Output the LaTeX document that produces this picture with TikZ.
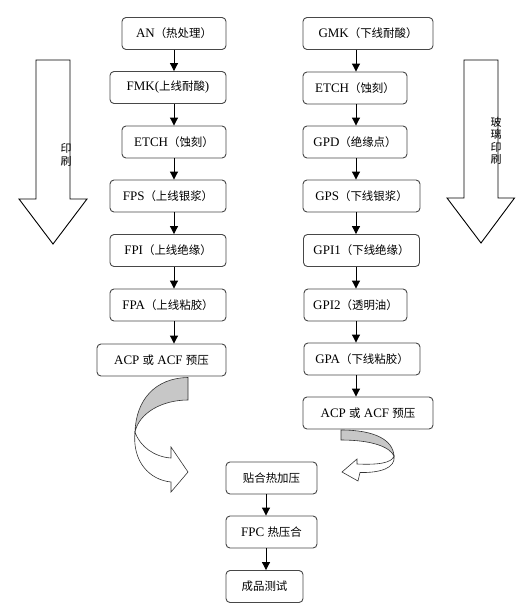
\documentclass[tikz,border=0pt]{standalone}
\usepackage{fontspec}
\setmainfont{Liberation Serif}
\newfontfamily\cjk[Scale=0.88]{Noto Sans CJK SC}
\newfontfamily\cjkv{Noto Sans CJK SC}
\usetikzlibrary{arrows.meta}
\newcommand\cn[1]{{\cjk #1}}
\tikzset{
  box/.style={draw=black!72, line width=0.9pt, rounded corners=4pt, fill=white,
    inner sep=0pt, minimum height=32pt, font=\fontsize{13}{15}\selectfont},
  arr/.style={line width=1pt, -{Triangle[length=8pt,width=8pt]}},
  bigarrow/.style={draw=black, line width=0.9pt, fill=white},
  backband/.style={draw=black!80, line width=0.6pt, fill=black!22},
  frontband/.style={draw=black!80, line width=0.6pt, fill=white},
  vtext/.style={align=center, inner sep=0pt, font=\cjkv\fontsize{11}{12.5}\selectfont}
}
\begin{document}
\begin{tikzpicture}[x=1pt,y=-1pt]
\useasboundingbox (0,0) rectangle (515,611);

% big arrows
\draw[bigarrow] (36,60) -- (70,60) -- (70,199) -- (87,199) -- (53,244) -- (19,199) -- (36,199) -- cycle;
\node[vtext] (ltxt) at (66,155) {印\\刷};
\draw[bigarrow] (464,60) -- (498,60) -- (498,198) -- (514.5,198) -- (481,243) -- (447,198) -- (464,198) -- cycle;
\node[vtext] (rtxt) at (496,141) {玻\\璃\\印\\刷};

% left column
\node[box, minimum width=104pt] (an)   at (174,33.5) {AN\cn{（热处理）}};
\node[box, minimum width=116pt] (fmk)  at (168,87.5) {FMK(\cn{上线耐酸})};
\node[box, minimum width=104pt] (etch) at (174,142) {ETCH\cn{（蚀刻）}};
\node[box, minimum width=116pt] (fps)  at (168,196) {FPS\cn{（上线银浆）}};
\node[box, minimum width=116pt] (fpi)  at (168,250.5) {FPI\cn{（上线绝缘）}};
\node[box, minimum width=116pt] (fpa)  at (168,305) {FPA\cn{（上线粘胶）}};
\node[box, minimum width=129pt] (acpl) at (161.5,360) {ACP \cn{或} ACF \cn{预压}\hspace{6pt}};

% right column
\node[box, minimum width=130pt] (gmk)   at (368,33.5) {GMK\cn{（下线耐酸）}};
\node[box, minimum width=104pt] (etch2) at (355,88) {ETCH\cn{（蚀刻）}};
\node[box, minimum width=104pt] (gpd)   at (355,142) {GPD\cn{（绝缘点）}};
\node[box, minimum width=117pt] (gps)   at (361.5,196) {GPS\cn{（下线银浆）}};
\node[box, minimum width=116pt] (gpi1)  at (361.5,250.5) {GPI1\cn{（下线绝缘）}};
\node[box, minimum width=103pt] (gpi2)  at (355.5,305) {GPI2\cn{（透明油）}};
\node[box, minimum width=116pt] (gpa)   at (362,359) {GPA\cn{（下线粘胶）}};
\node[box, minimum width=130pt] (acpr)  at (368,413) {ACP \cn{或} ACF \cn{预压}};

% bottom column
\node[box, minimum width=91pt] (tie)  at (271.5,478) {\cn{贴合热加压}};
\node[box, minimum width=91pt] (fpc)  at (271.5,532) {FPC \cn{热压合}};
\node[box, minimum width=77pt] (test) at (264.5,586.5) {\cn{成品测试}};

% connector lines
\coordinate (cl) at (174,0);
\coordinate (cr) at (356,0);
\coordinate (cb) at (266,0);
\draw[arr] (cl |- an.south) -- (cl |- fmk.north);
\draw[arr] (cl |- fmk.south) -- (cl |- etch.north);
\draw[arr] (cl |- etch.south) -- (cl |- fps.north);
\draw[arr] (cl |- fps.south) -- (cl |- fpi.north);
\draw[arr] (cl |- fpi.south) -- (cl |- fpa.north);
\draw[arr] (cl |- fpa.south) -- (cl |- acpl.north);

\draw[arr] (cr |- gmk.south) -- (cr |- etch2.north);
\draw[arr] (cr |- etch2.south) -- (cr |- gpd.north);
\draw[arr] (cr |- gpd.south) -- (cr |- gps.north);
\draw[arr] (cr |- gps.south) -- (cr |- gpi1.north);
\draw[arr] (cr |- gpi1.south) -- (cr |- gpi2.north);
\draw[arr] (cr |- gpi2.south) -- (cr |- gpa.north);
\draw[arr] (cr |- gpa.south) -- (cr |- acpr.north);

\draw[arr] (cb |- tie.south) -- (cb |- fpc.north);
\draw[arr] (cb |- fpc.south) -- (cb |- test.north);

% left curved arrow
\draw[backband] (188,377.5) -- (188,400) .. controls (162,400) and (139,413) .. (135,432)
  .. controls (136,400) and (155,378) .. (188,377.5) -- cycle;
\draw[frontband] (135,432) .. controls (140,447) and (155,457) .. (171,458)
  -- (171,447) -- (188,472) -- (171,492) -- (171,482)
  .. controls (150,480) and (132,462) .. (135,432) -- cycle;

% right curved arrow
\draw[backband] (341,430) .. controls (375,430) and (393,440) .. (394,456)
  .. controls (390,447) and (372,440) .. (341,440) -- cycle;
\draw[frontband] (394,456) .. controls (392,463) and (378,465) .. (357,464)
  -- (357,459) -- (342,472) -- (358,481) -- (360,472.5)
  .. controls (380,473) and (396,468) .. (394,456) -- cycle;
\end{tikzpicture}
\end{document}
